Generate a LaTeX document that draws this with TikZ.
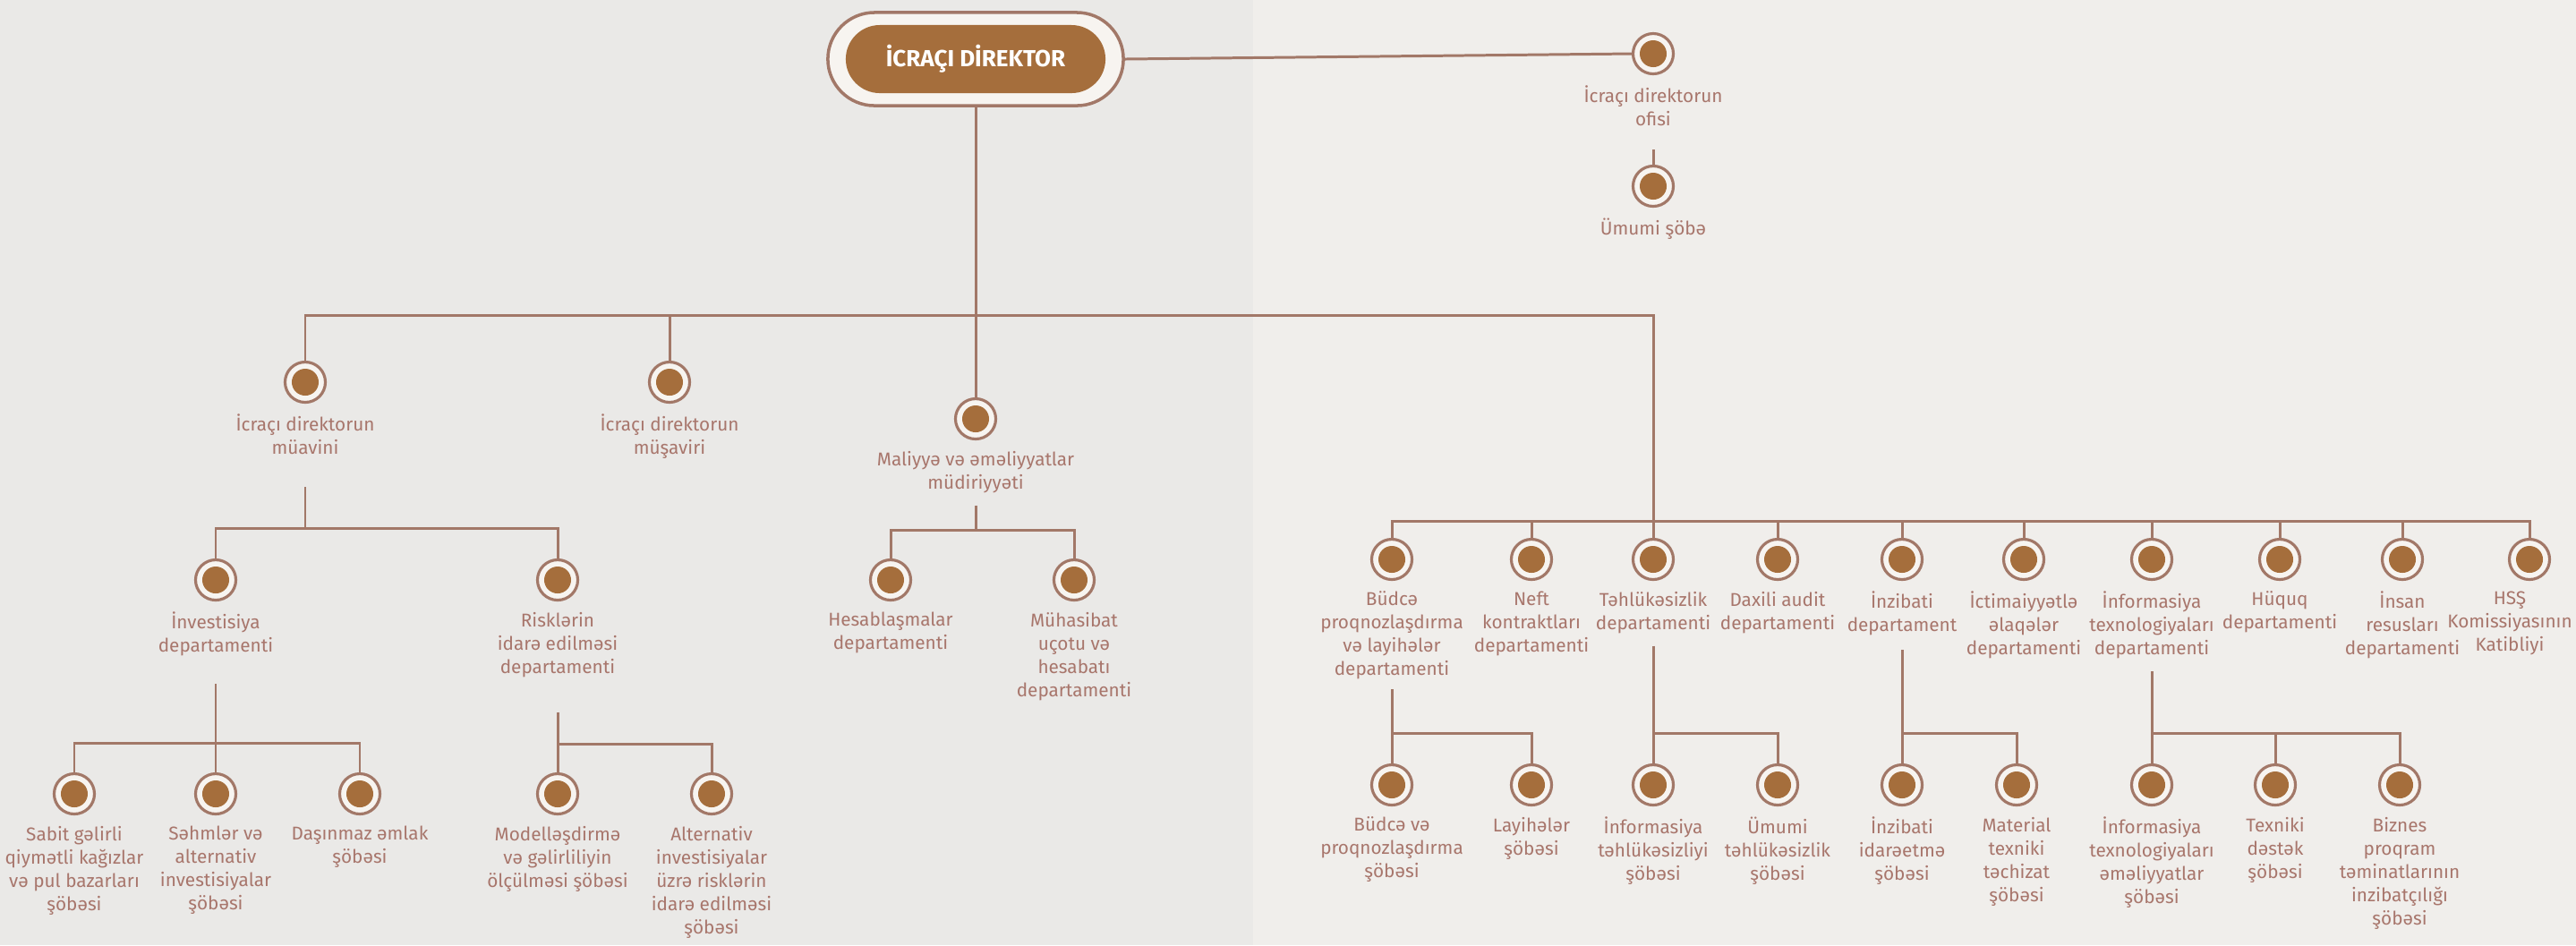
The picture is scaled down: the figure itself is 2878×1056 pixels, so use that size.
\documentclass[tikz,border=0pt]{standalone}
\usepackage{fontspec}
\setmainfont{Fira Sans}
\usetikzlibrary{positioning,calc,shapes.misc}
\definecolor{bgL}{HTML}{EAE9E7}
\definecolor{bgR}{HTML}{F0EEEB}
\definecolor{linec}{HTML}{A27868}
\definecolor{dotc}{HTML}{A56E3C}
\definecolor{gapc}{HTML}{F7F4F0}
\definecolor{txtc}{HTML}{A8766C}
\begin{document}
\begin{tikzpicture}[x=0.01cm,y=-0.01cm,
  unit/.style={circle, draw=linec, line width=0.9pt, fill=gapc, minimum size=0.45cm, inner sep=0pt,
    path picture={\fill[dotc] (path picture bounding box.center) circle (0.15cm);}},
  lbl/.style={text=txtc, align=center, inner sep=0pt, font=\fontsize{5.9}{7.4}\selectfont,
    execute at begin node=\strut, below=0.11cm of #1},
  conn/.style={draw=linec, line width=0.85pt}]
\useasboundingbox (0,0) rectangle (2878,1056);
\fill[bgL] (0,0) rectangle (1400,1056);
\fill[bgR] (1400,0) rectangle (2878,1056);

% director
\node[rounded rectangle, draw=linec, line width=1pt, fill=gapc, minimum width=3.3cm, minimum height=1.04cm, inner sep=0pt] (dir) at (1090,66) {};
\node[rounded rectangle, fill=dotc, minimum width=2.9cm, minimum height=0.76cm, inner sep=0pt, text=white, font=\fontsize{7.4}{8}\selectfont\bfseries] (dirin) at (dir.center) {İCRAÇI DİREKTOR};

% office branch
\node[unit] (ofisi) at (1847,60) {};
\node[lbl=ofisi] (ofisi-l) {İcraçı direktorun\\ofisi};
\node[unit] (umumi) at (1847,208) {};
\node[lbl=umumi] (umumi-l) {Ümumi şöbə};

% level 1
\node[unit] (muav) at (341,427) {};
\node[lbl=muav] (muav-l) {İcraçı direktorun\\müavini};
\node[unit] (musv) at (748,427) {};
\node[lbl=musv] (musv-l) {İcraçı direktorun\\müşaviri};
\node[unit] (mal) at (1090,468) {};
\node[lbl=mal] (mal-l) {Maliyyə və əməliyyatlar\\müdiriyyəti};

% right row
\node[unit] (r1) at (1555,625) {};
\node[lbl=r1] (r1-l) {Büdcə\\proqnozlaşdırma\\və layihələr\\departamenti};
\node[unit] (r2) at (1711,625) {};
\node[lbl=r2] (r2-l) {Neft\\kontraktları\\departamenti};
\node[unit] (r3) at (1847,625) {};
\node[lbl=r3] (r3-l) {Təhlükəsizlik\\departamenti};
\node[unit] (r4) at (1986,625) {};
\node[lbl=r4] (r4-l) {Daxili audit\\departamenti};
\node[unit] (r5) at (2125,625) {};
\node[lbl=r5] (r5-l) {İnzibati\\departament};
\node[unit] (r6) at (2261,625) {};
\node[lbl=r6] (r6-l) {İctimaiyyətlə\\əlaqələr\\departamenti};
\node[unit] (r7) at (2404,625) {};
\node[lbl=r7] (r7-l) {İnformasiya\\texnologiyaları\\departamenti};
\node[unit] (r8) at (2547,625) {};
\node[lbl=r8] (r8-l) {Hüquq\\departamenti};
\node[unit] (r9) at (2684,625) {};
\node[lbl=r9] (r9-l) {İnsan\\resusları\\departamenti};
\node[unit] (r10) at (2826,625) {};
\node[lbl=r10, xshift=-0.22cm] (r10-l) {HSŞ\\Komissiyasının\\Katibliyi};

% right level 2
\node[unit] (b1) at (1555,877) {};
\node[lbl=b1] (b1-l) {Büdcə və\\proqnozlaşdırma\\şöbəsi};
\node[unit] (b2) at (1711,877) {};
\node[lbl=b2] (b2-l) {Layihələr\\şöbəsi};
\node[unit] (b3) at (1847,877) {};
\node[lbl=b3] (b3-l) {İnformasiya\\təhlükəsizliyi\\şöbəsi};
\node[unit] (b4) at (1986,877) {};
\node[lbl=b4] (b4-l) {Ümumi\\təhlükəsizlik\\şöbəsi};
\node[unit] (b5) at (2125,877) {};
\node[lbl=b5] (b5-l) {İnzibati\\idarəetmə\\şöbəsi};
\node[unit] (b6) at (2253,877) {};
\node[lbl=b6] (b6-l) {Material\\texniki\\təchizat\\şöbəsi};
\node[unit] (b7) at (2404,877) {};
\node[lbl=b7] (b7-l) {İnformasiya\\texnologiyaları\\əməliyyatlar\\şöbəsi};
\node[unit] (b8) at (2542,877) {};
\node[lbl=b8] (b8-l) {Texniki\\dəstək\\şöbəsi};
\node[unit] (b9) at (2681,877) {};
\node[lbl=b9] (b9-l) {Biznes\\proqram\\təminatlarının\\inzibatçılığı\\şöbəsi};

% left level 2
\node[unit] (inv) at (241,648) {};
\node[lbl=inv] (inv-l) {İnvestisiya\\departamenti};
\node[unit] (ris) at (623,648) {};
\node[lbl=ris] (ris-l) {Risklərin\\idarə edilməsi\\departamenti};
\node[unit] (hes) at (995,648) {};
\node[lbl=hes] (hes-l) {Hesablaşmalar\\departamenti};
\node[unit] (muh) at (1200,648) {};
\node[lbl=muh] (muh-l) {Mühasibat\\uçotu və\\hesabatı\\departamenti};

% left level 3
\node[unit] (s1) at (83,887) {};
\node[lbl=s1] (s1-l) {Sabit gəlirli\\qiymətli kağızlar\\və pul bazarları\\şöbəsi};
\node[unit] (s2) at (241,887) {};
\node[lbl=s2] (s2-l) {Səhmlər və\\alternativ\\investisiyalar\\şöbəsi};
\node[unit] (s3) at (402,887) {};
\node[lbl=s3] (s3-l) {Daşınmaz əmlak\\şöbəsi};
\node[unit] (s4) at (623,887) {};
\node[lbl=s4] (s4-l) {Modelləşdirmə\\və gəlirliliyin\\ölçülməsi şöbəsi};
\node[unit] (s5) at (795,887) {};
\node[lbl=s5] (s5-l) {Alternativ\\investisiyalar\\üzrə risklərin\\idarə edilməsi\\şöbəsi};

% junction coordinates
\coordinate (mb) at (1090,352);
\coordinate (rb) at (1847,582);
\coordinate (bA) at (341,590);
\coordinate (bM) at (1090,592);
\coordinate (bI) at (241,830);
\coordinate (bR) at (623,831);
\coordinate (bB) at (1555,819);
\coordinate (bT) at (1847,819);
\coordinate (bZ) at (2125,819);
\coordinate (bF) at (2404,819);
\coordinate (vO) at ($(ofisi-l.south)+(0,18)$);
\coordinate (vA) at ($(muav-l.south)+(0,28)$);
\coordinate (vM) at ($(mal-l.south)+(0,10)$);
\coordinate (vI) at ($(inv-l.south)+(0,27)$);
\coordinate (vR) at ($(ris-l.south)+(0,35)$);
\coordinate (vB) at ($(r1-l.south)+(0,7)$);
\coordinate (vT) at ($(r3-l.south)+(0,10)$);
\coordinate (vZ) at ($(r5-l.south)+(0,12)$);
\coordinate (vF) at ($(r7-l.south)+(0,10)$);

% connectors
\draw[conn] (dir.east) -- (ofisi.west);
\draw[conn] (vO) -- (umumi.north);
\draw[conn] (dir.south) -- (mal.north);
\draw[conn] (muav.north) |- (mb) -| (r3.north);
\draw[conn] (musv.north) -- (musv.north |- mb);
\draw[conn] (r1.north) |- (rb) -| (r10.north);
\foreach \n in {r2,r4,r5,r6,r7,r8,r9} \draw[conn] (\n.north) -- (\n.north |- rb);

\draw[conn] (vA) -- (bA);
\draw[conn] (inv.north) |- (bA) -| (ris.north);
\draw[conn] (vM) -- (bM);
\draw[conn] (hes.north) |- (bM) -| (muh.north);

\draw[conn] (vI) -- (s2.north);
\draw[conn] (s1.north) |- (bI) -| (s3.north);
\draw[conn] (vR) -- (s4.north);
\draw[conn] (bR) -| (s5.north);

\draw[conn] (vB) -- (b1.north);
\draw[conn] (bB) -| (b2.north);
\draw[conn] (vT) -- (b3.north);
\draw[conn] (bT) -| (b4.north);
\draw[conn] (vZ) -- (b5.north);
\draw[conn] (bZ) -| (b6.north);
\draw[conn] (vF) -- (b7.north);
\draw[conn] (bF) -| (b9.north);
\draw[conn] (b8.north) -- (b8.north |- bF);
\end{tikzpicture}
\end{document}
